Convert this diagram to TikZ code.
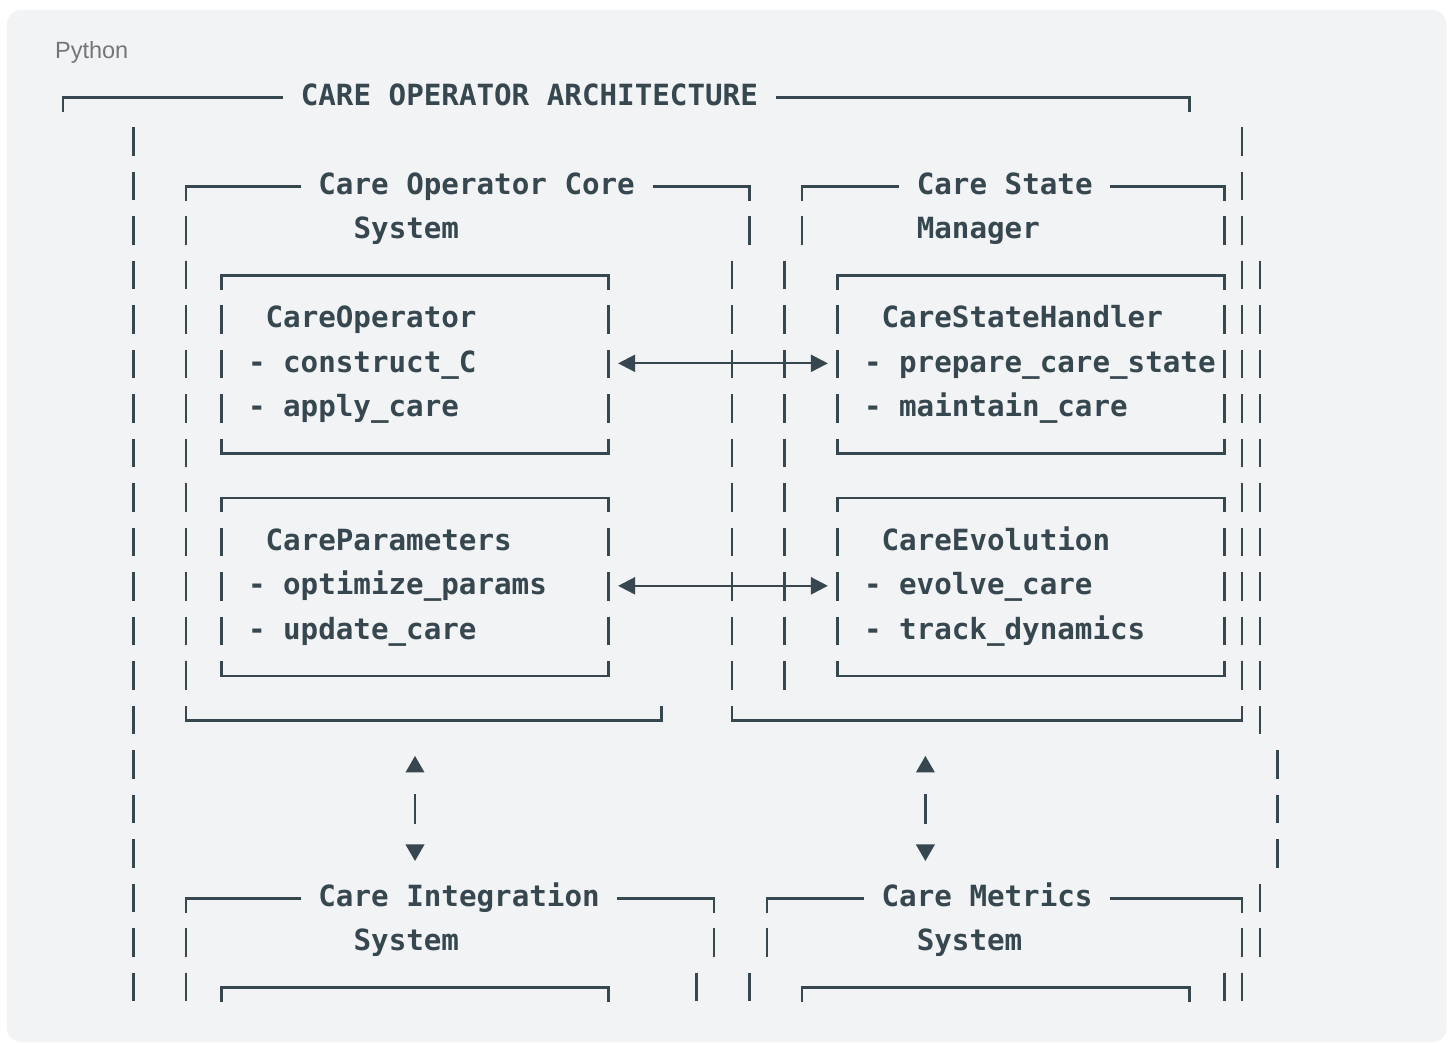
\documentclass[tikz,border=0pt]{standalone}
\usepackage{fontspec}
\setmainfont{Liberation Sans}
\setmonofont{DejaVu Sans Mono}
\usepackage{tikz}
\usetikzlibrary{arrows.meta, shapes.geometric}
\definecolor{careink}{HTML}{37474F}
\definecolor{carepanel}{HTML}{F1F3F5}
\definecolor{caretag}{HTML}{757575}

% one x unit = one character cell, one y unit = one text row
\newcommand{\pipe}[2]{\draw[frame] (#1,#2) ++(0,-0.28) -- ++(0,0.65);}
\newcommand{\boxtop}[3]{\draw[frame] (#1,#3+0.38) |- (#2,#3+0.055) -- (#2,#3+0.38);}
\newcommand{\boxbot}[3]{\draw[frame] (#1,#3-0.28) |- (#2,#3+0.055) -- (#2,#3-0.28);}
\newcommand{\titletop}[5]{%
  \draw[frame] (#1,#5+0.38) |- (#2,#5+0.055);
  \draw[frame] (#3,#5+0.055) -| (#4,#5+0.38);}

\begin{document}
\begin{tikzpicture}[
    x=17.6pt, y=-44.5pt,
    frame/.style={line width=2.3pt, careink},
    txt/.style={anchor=base west, inner sep=0pt, text=careink, font=\ttfamily\bfseries\fontsize{29.2pt}{35pt}\selectfont},
    tag/.style={anchor=base west, inner sep=0pt, text=caretag, font=\fontsize{23.5pt}{28pt}\selectfont},
    flow/.style={<->, >={Triangle[length=17pt,width=17pt]}, line width=2.2pt, careink, shorten <=9.5pt, shorten >=9.5pt},
    uptip/.style={regular polygon, regular polygon sides=3, minimum size=22pt, inner sep=0pt, fill=careink},
    downtip/.style={uptip, shape border rotate=180},
    riser/.style={frame, shorten <=21.5pt, shorten >=20.5pt}
]

% Panel
\useasboundingbox (-63pt,95pt) rectangle (1390pt,-948pt);
\fill[carepanel, rounded corners=14pt] (-56pt,85pt) rectangle (1383.5pt,-947pt);
\node[tag] (lang) at (-0.46,-0.825) {Python};

% Row 0: outer frame
\titletop{0}{12.5}{40.5}{64}{0}
\node[txt] (arch) at (13.5,0.225) {CARE OPERATOR ARCHITECTURE};

% Rows 2-3: Core System and State Manager headers
\titletop{7}{13.5}{33.5}{39}{2}
\titletop{42}{47.5}{59.5}{66}{2}
\node[txt] (coreTitle) at (14.5,2.225) {Care Operator Core};
\node[txt] (coreSub) at (16.5,3.225) {System};
\node[txt] (stateTitle) at (48.5,2.225) {Care State};
\node[txt] (stateSub) at (48.5,3.225) {Manager};

% Inner boxes
\boxtop{9}{31}{4}  \boxtop{44}{66}{4}
\boxbot{9}{31}{8}  \boxbot{44}{66}{8}
\boxtop{9}{31}{9}  \boxtop{44}{66}{9}
\boxbot{9}{31}{13} \boxbot{44}{66}{13}

\node[txt] (opName) at (11.5,5.235) {CareOperator};
\node[txt] (opA) at (10.5,6.235) {- construct\_C};
\node[txt] (opB) at (10.5,7.235) {- apply\_care};
\node[txt] (hdName) at (46.5,5.235) {CareStateHandler};
\node[txt] (hdA) at (45.5,6.235) {- prepare\_care\_state};
\node[txt] (hdB) at (45.5,7.235) {- maintain\_care};

\node[txt] (parName) at (11.5,10.235) {CareParameters};
\node[txt] (parA) at (10.5,11.235) {- optimize\_params};
\node[txt] (parB) at (10.5,12.235) {- update\_care};
\node[txt] (evoName) at (46.5,10.235) {CareEvolution};
\node[txt] (evoA) at (45.5,11.235) {- evolve\_care};
\node[txt] (evoB) at (45.5,12.235) {- track\_dynamics};

% Row 14: closing the two systems
\boxbot{7}{34}{14} \boxbot{38}{67}{14}

% Rows 18-20: Integration and Metrics
\titletop{7}{13.5}{31.5}{37}{18}
\titletop{40}{45.5}{59.5}{67}{18}
\node[txt] (intTitle) at (14.5,18.225) {Care Integration};
\node[txt] (intSub) at (16.5,19.225) {System};
\node[txt] (metTitle) at (46.5,18.225) {Care Metrics};
\node[txt] (metSub) at (48.5,19.225) {System};
\boxtop{9}{31}{20} \boxtop{42}{64}{20}

% Side bars
\foreach \r in {1,2} {\foreach \c in {4,67} {\pipe{\c}{\r}}}
\foreach \c in {4,7,39,42,66,67} {\pipe{\c}{3}}
\foreach \r in {4,8,9,13} {\foreach \c in {4,7,38,41,67,68} {\pipe{\c}{\r}}}
\foreach \r in {5,6,7,10,11,12} {\foreach \c in {4,7,9,31,38,41,44,66,67,68} {\pipe{\c}{\r}}}
\foreach \c in {4,68} {\pipe{\c}{14}}
\foreach \r in {15,16,17} {\foreach \c in {4,69} {\pipe{\c}{\r}}}
\foreach \c in {4,68} {\pipe{\c}{18}}
\foreach \c in {4,7,37,40,67,68} {\pipe{\c}{19}}
\foreach \c in {4,7,36,39,66,67} {\pipe{\c}{20}}

% Horizontal links
\coordinate (opPort) at (31,6.03);
\coordinate (hdPort) at (44,6.03);
\coordinate (parPort) at (31,11.03);
\coordinate (evoPort) at (44,11.03);
\draw[flow] (opPort) -- (hdPort);
\draw[flow] (parPort) -- (evoPort);

% Vertical links
\node[uptip] (coreUp) at (20,15.1) {};
\node[downtip] (intDown) at (20,16.966) {};
\node[uptip] (stateUp) at (49,15.1) {};
\node[downtip] (metDown) at (49,16.966) {};
\draw[riser] (coreUp) -- (intDown);
\draw[riser] (stateUp) -- (metDown);

\end{tikzpicture}
\end{document}
